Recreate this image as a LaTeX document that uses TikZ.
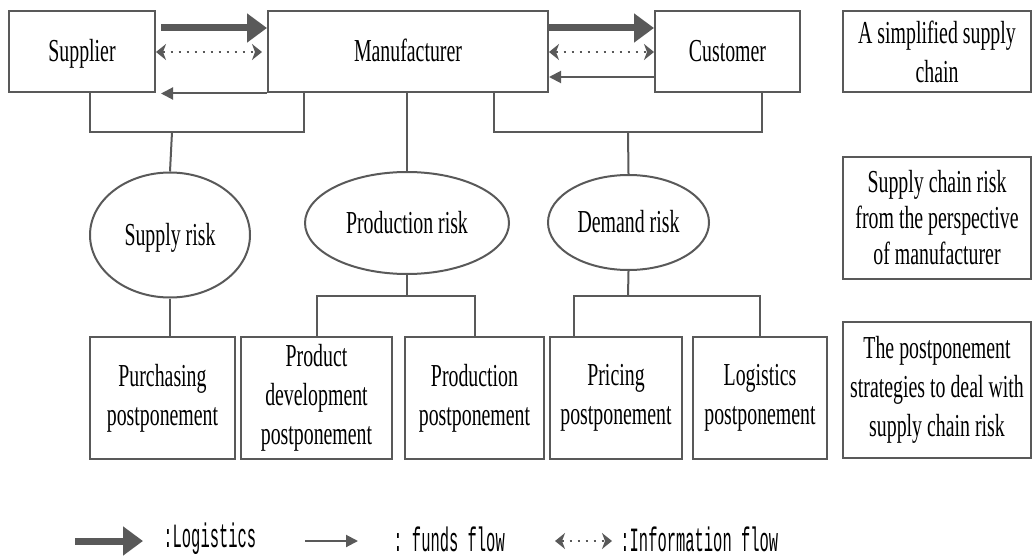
\documentclass[tikz,border=0pt]{standalone}
\usepackage{fontspec}
\setmainfont{Liberation Serif}[FakeStretch=0.62]
\setmonofont{Liberation Mono}[FakeStretch=0.455]
\usetikzlibrary{shapes.geometric, arrows.meta, positioning, calc}
\definecolor{linegray}{HTML}{595959}

\begin{document}
\begin{tikzpicture}[x=0.5pt, y=-0.5pt, font=\fontsize{16}{19.5}\selectfont]
    \tikzstyle{party} = [rectangle, minimum width=73pt, minimum height=40.5pt, text height=12pt, text depth=2pt, text centered, draw=linegray, line width=1pt, inner sep=0pt]
    \tikzstyle{risk} = [ellipse, text height=12pt, text depth=2pt, draw=linegray, line width=1pt, inner sep=0pt]
    \tikzstyle{strategy} = [rectangle, minimum height=61pt, align=center, draw=linegray, line width=1pt, inner sep=0pt]
    \tikzstyle{levelbox} = [rectangle, minimum width=94pt, align=center, draw=linegray, line width=1pt, inner sep=0pt]
    \tikzstyle{link} = [draw=linegray, line width=1pt]
    \tikzstyle{logistics} = [draw=linegray, line width=3.5pt, -{Triangle[length=10pt,width=14pt]}]
    \tikzstyle{funds} = [draw=linegray, line width=1pt, -{Triangle[length=6pt,width=6pt]}]
    \tikzstyle{info} = [draw=linegray, line width=1pt, dash pattern=on 1pt off 3pt, {Stealth[length=5pt,width=8pt,inset=1.5pt]}-{Stealth[length=5pt,width=8pt,inset=1.5pt]}]
    \tikzstyle{legend} = [anchor=west, inner sep=0pt, font=\fontsize{17}{19}\ttfamily]

    \useasboundingbox (0,0) rectangle (1032,556);

    % supply chain
    \node (supplier) [party] at (82,52) {Supplier};
    \node (manufacturer) [party, minimum width=140pt] at (408,52) {Manufacturer};
    \node (customer) [party, minimum width=72.5pt] at (727.5,52) {Customer};

    % level captions
    \node (chainlevel) [levelbox, minimum height=40.5pt] at (937,52) {A simplified supply\\chain};
    \node (risklevel) [levelbox, minimum height=61pt, font=\fontsize{16}{18}\selectfont] at (937,218) {Supply chain risk\\from the perspective\\of manufacturer};
    \node (strategylevel) [levelbox, minimum height=68pt] at (937,390) {The postponement\\strategies to deal with\\supply chain risk};

    % risks
    \node (supply) [risk, minimum width=80pt, minimum height=62.5pt] at (170,235) {Supply risk};
    \node (production) [risk, minimum width=102pt, minimum height=51pt] at (407,223) {Production risk};
    \node (demand) [risk, minimum width=80.5pt, minimum height=47.5pt] at (628.5,222.5) {Demand risk};

    % postponement strategies
    \node (purchasing) [strategy, minimum width=72.5pt] at (162.5,398) {Purchasing\\postponement};
    \node (development) [strategy, minimum width=75.5pt] at (316.5,398) {Product\\development\\postponement};
    \node (productionpp) [strategy, minimum width=69.5pt] at (474.5,398) {Production\\postponement};
    \node (pricing) [strategy, minimum width=66pt] at (616,398) {Pricing\\postponement};
    \node (logisticspp) [strategy, minimum width=67pt] at (760,398) {Logistics\\postponement};

    \coordinate (supplybar) at (172,132);
    \coordinate (demandbar) at (628,132);
    \coordinate (productionbar) at (407,296);
    \coordinate (demandsplit) at (628,296);

    % tree lines
    \draw [link] ([xshift=4pt]supplier.south) |- (supplybar) -| ([xshift=18.5pt]manufacturer.south west);
    \draw [link] (supplybar) -- (supply.north);
    \draw [link] (production.north |- manufacturer.south) -- (production.north);
    \draw [link] ([xshift=-27.5pt]manufacturer.south east) |- (demandbar) -| ([xshift=17.25pt]customer.south);
    \draw [link] (demandbar) -- (demand.north);
    \draw [link] (supply.south) -- (supply.south |- purchasing.north);
    \draw [link] (production.south) -- (productionbar);
    \draw [link] (development.north) |- (productionbar) -| (productionpp.north);
    \draw [link] (demand.south) -- (demandsplit);
    \draw [link] ([xshift=-21pt]pricing.north) |- (demandsplit) -| (logisticspp.north);

    % flows
    \draw [logistics, shorten <=2.5pt] ([yshift=12pt]supplier.east) -- ([yshift=12pt]manufacturer.west);
    \draw [info, shorten >=2.5pt] (supplier) -- (manufacturer);
    \draw [funds, shorten >=2.5pt] (manufacturer.south west) -- (manufacturer.south west -| supplier.east);
    \draw [logistics] ([yshift=12pt]manufacturer.east) -- ([yshift=12pt]customer.west);
    \draw [info] (manufacturer) -- (customer);
    \draw [funds] ([yshift=-12.5pt]customer.west) -- ([yshift=-12.5pt]manufacturer.east);

    % legend
    \coordinate (logstart) at (75,541);
    \coordinate (logend) at (143,541);
    \coordinate (fundstart) at (305,541);
    \coordinate (fundend) at (358,541);
    \coordinate (infostart) at (555,541);
    \coordinate (infoend) at (612,541);
    \draw [logistics] (logstart) -- (logend);
    \node (loglabel) [legend] at (163,539) {:Logistics};
    \draw [funds] (fundstart) -- (fundend);
    \node (fundlabel) [legend] at (393,539) {: funds flow};
    \draw [info] (infostart) -- (infoend);
    \node (infolabel) [legend] at (620,539) {:Information flow};
\end{tikzpicture}
\end{document}
